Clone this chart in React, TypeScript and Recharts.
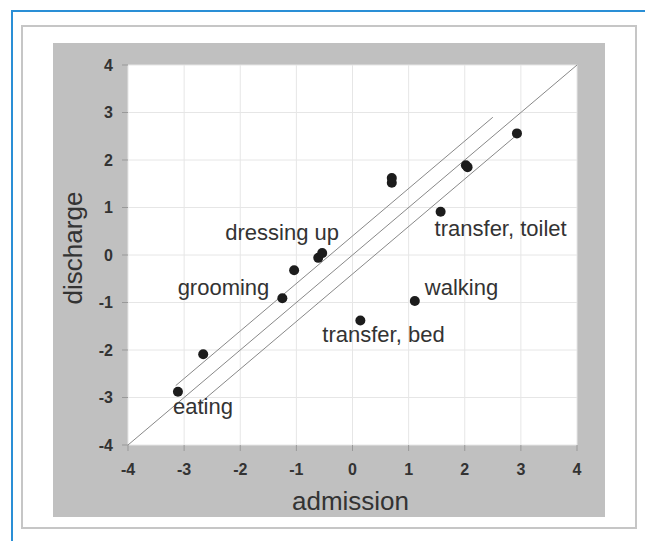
import { ScatterChart, Scatter, XAxis, YAxis, CartesianGrid, ReferenceLine, Label } from "recharts";

const admission = [-3.11, -2.66, -1.25, -1.04, -0.61, -0.54, 0.14, 0.7, 0.7, 1.11, 1.57, 2.02, 2.05, 2.93];
const discharge = [-2.88, -2.09, -0.91, -0.32, -0.06, 0.04, -1.38, 1.52, 1.62, -0.97, 0.91, 1.89, 1.85, 2.56];
const itemNames = ["eating", "", "grooming", "", "", "dressing up", "transfer, bed", "", "", "walking", "transfer, toilet", "", "", ""];
const axisTicks = [-4, -3, -2, -1, 0, 1, 2, 3, 4];

// identity line and the two control lines around it
const identityLine = [{ x: -4, y: -4 }, { x: 4, y: 4 }];
const upperLine = [{ x: -3.15, y: -2.75 }, { x: 2.5, y: 2.9 }];
const lowerLine = [{ x: -2.75, y: -3.15 }, { x: 2.95, y: 2.55 }];

const points = admission.map((x, i) => ({ x, y: discharge[i], name: itemNames[i] }));

const FONT = "'Liberation Sans', Arial, sans-serif";

const labelPlacement: Record<string, { dx: number; dy: number; anchor: "start" | "middle" | "end" }> = {
  eating: { dx: -5, dy: 22, anchor: "start" },
  grooming: { dx: -13, dy: -3, anchor: "end" },
  "dressing up": { dx: -40, dy: -13, anchor: "middle" },
  "transfer, bed": { dx: -38, dy: 21, anchor: "start" },
  walking: { dx: 10, dy: -6, anchor: "start" },
  "transfer, toilet": { dx: -6, dy: 24, anchor: "start" },
};

const Dot = (props: any) => {
  const { cx, cy, payload } = props;
  const place = payload && payload.name ? labelPlacement[payload.name] : null;
  return (
    <g>
      <circle cx={cx} cy={cy} r={5} fill="#1c1c1c" />
      {place && (
        <text
          x={cx + place.dx}
          y={cy + place.dy}
          textAnchor={place.anchor}
          fontFamily={FONT}
          fontSize={22}
          fill="#333"
        >
          {payload.name}
        </text>
      )}
    </g>
  );
};

const tickStyle = { fill: "#333", fontSize: 16, fontWeight: 700, fontFamily: FONT };

export default function App() {
  return (
    <div style={{ position: "absolute", left: 0, top: 0, width: 645, height: 541, background: "#fff", overflow: "hidden" }}>
      <div
        style={{
          position: "absolute",
          left: 11,
          top: 10,
          width: 634,
          height: 531,
          borderTop: "2px solid #2a8fd6",
          borderLeft: "2px solid #2a8fd6",
          boxSizing: "border-box",
        }}
      />
      <div
        style={{
          position: "absolute",
          left: 21,
          top: 25,
          width: 616,
          height: 504,
          border: "2px solid #c6c6c6",
          boxSizing: "border-box",
        }}
      />
      <div style={{ position: "absolute", left: 53, top: 43, width: 552, height: 474, background: "#c0c0c0" }} />
      <div style={{ position: "absolute", left: 0, top: 0 }}>
        <ScatterChart width={645} height={541} margin={{ top: 65, right: 68, bottom: 26, left: 68 }}>
          <CartesianGrid fill="#fff" stroke="#e6e6e6" />
          <XAxis
            type="number"
            dataKey="x"
            domain={[-4, 4]}
            ticks={axisTicks}
            height={70}
            axisLine={false}
            tickLine={{ stroke: "#999" }}
            tickSize={6}
            tickMargin={13}
            tick={tickStyle}
          >
            <Label
              content={({ viewBox }: any) => (
                <text
                  x={viewBox.x + viewBox.width / 2 - 2}
                  y={510}
                  textAnchor="middle"
                  fontFamily={FONT}
                  fontSize={26}
                  fill="#333"
                >
                  admission
                </text>
              )}
            />
          </XAxis>
          <YAxis
            type="number"
            dataKey="y"
            domain={[-4, 4]}
            ticks={axisTicks}
            width={60}
            axisLine={false}
            tickLine={{ stroke: "#999" }}
            tickSize={6}
            tickMargin={9}
            tick={tickStyle}
          >
            <Label
              content={({ viewBox }: any) => {
                const cy = viewBox.y + viewBox.height / 2 - 7;
                return (
                  <text
                    x={82}
                    y={cy}
                    transform={`rotate(-90, 82, ${cy})`}
                    textAnchor="middle"
                    fontFamily={FONT}
                    fontSize={26}
                    fill="#333"
                  >
                    discharge
                  </text>
                );
              }}
            />
          </YAxis>
          <ReferenceLine segment={identityLine} stroke="#888" strokeWidth={1} ifOverflow="visible" />
          <ReferenceLine segment={upperLine} stroke="#888" strokeWidth={1} ifOverflow="visible" />
          <ReferenceLine segment={lowerLine} stroke="#888" strokeWidth={1} ifOverflow="visible" />
          <Scatter data={points} shape={Dot} isAnimationActive={false} />
        </ScatterChart>
      </div>
    </div>
  );
}
